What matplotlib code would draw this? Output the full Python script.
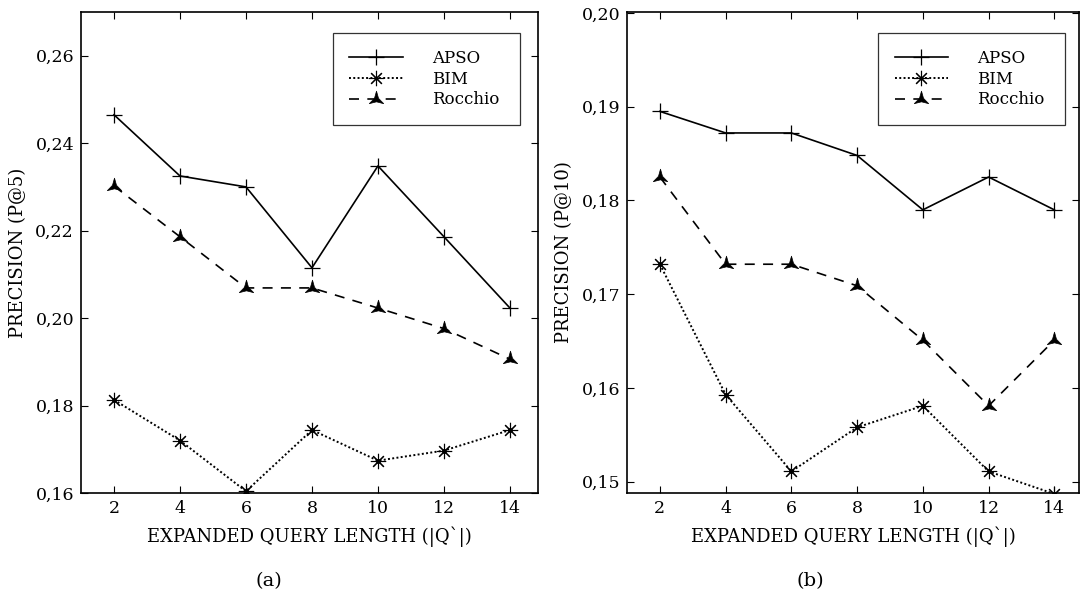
import numpy as np
import matplotlib
matplotlib.use("Agg")
import matplotlib.pyplot as plt
from matplotlib.path import Path
from matplotlib.ticker import FuncFormatter

plt.rcParams['font.family'] = ['DejaVu Serif']

x_len = [2, 4, 6, 8, 10, 12, 14]

apso_p5 = [0.2465, 0.2325, 0.2300, 0.2115, 0.2348, 0.2186, 0.2023]
bim_p5 = [0.1813, 0.1720, 0.1604, 0.1744, 0.1674, 0.1697, 0.1744]
rocchio_p5 = [0.2302, 0.2186, 0.2069, 0.2069, 0.2023, 0.1976, 0.1906]

apso_p10 = [0.1895, 0.1872, 0.1872, 0.1848, 0.1790, 0.1825, 0.1790]
bim_p10 = [0.1732, 0.1593, 0.1511, 0.1558, 0.1581, 0.1511, 0.1487]
rocchio_p10 = [0.1825, 0.1732, 0.1732, 0.1709, 0.1651, 0.1581, 0.1651]

yticks_a = [0.16, 0.18, 0.20, 0.22, 0.24, 0.26]
yticks_b = [0.15, 0.16, 0.17, 0.18, 0.19, 0.20]
series_names = ['APSO', 'BIM', 'Rocchio']

# three-pointed star marker (one arm up, two down)
ang = np.deg2rad([90, 150, 210, 270, 330, 30, 90])
rad = np.array([1.0, 0.28, 1.0, 0.28, 1.0, 0.28, 1.0])
tri_verts = np.column_stack([rad * np.cos(ang), rad * np.sin(ang)])
tri_marker = Path(tri_verts, closed=True)

fig = plt.figure(figsize=(10.82, 5.99), dpi=100)
W, H = 1082, 599

def make_axes(l, r, t, b):
    return fig.add_axes([l / W, (H - b) / H, (r - l) / W, (b - t) / H])

ax1 = make_axes(81, 538, 12, 493)
ax2 = make_axes(627, 1079, 12, 493)

comma = FuncFormatter(lambda v, p: f"{v:.2f}".replace('.', ','))

def draw(ax, apso, bim, roc, ylim, yticks, ylabel, xlim, leg_l, leg_r):
    ax.plot(x_len, apso, color='black', lw=1.2, ls='-', marker='+',
            ms=12, mew=0.9, label=series_names[0])
    ax.plot(x_len, bim, color='black', lw=1.4, ls=(0, (1, 1.2)), marker=(8, 2, 0),
            ms=11, mew=0.8, label=series_names[1])
    ax.plot(x_len, bim, color='black', lw=0, marker='o', ms=2.5)
    ax.plot(x_len, roc, color='black', lw=1.2, ls=(0, (6, 5)), marker=tri_marker,
            ms=12, mew=0.5, label=series_names[2])
    ax.set_xlim(*xlim)
    ax.set_ylim(*ylim)
    ax.set_xticks(x_len)
    ax.set_yticks(yticks)
    ax.yaxis.set_major_formatter(comma)
    ax.tick_params(direction='in', top=True, right=True, length=5, width=0.8,
                   labelsize=12.5, pad=5)
    for s in ax.spines.values():
        s.set_linewidth(1.2)
    ax.set_xlabel('EXPANDED QUERY LENGTH (|Q`|)', fontsize=13, labelpad=7)
    ax.set_ylabel(ylabel, fontsize=13, labelpad=6)
    leg = ax.legend(loc='upper left', bbox_to_anchor=(leg_l, 0.0, leg_r - leg_l, 0.956),
                    mode='expand', borderaxespad=0, fontsize=12, handlelength=3.2,
                    handletextpad=1.75, labelspacing=0.23, borderpad=1.0,
                    fancybox=False, frameon=True, edgecolor='black')
    leg.get_frame().set_linewidth(0.9)

draw(ax1, apso_p5, bim_p5, rocchio_p5, (0.16, 0.27), yticks_a,
     'PRECISION (P@5)', (1, 14.85), 0.551, 0.961)
draw(ax2, apso_p10, bim_p10, rocchio_p10, (0.1488, 0.2001), yticks_b,
     'PRECISION (P@10)', (1, 14.75), 0.555, 0.969)

fig.text(269 / W, 1 - 581 / H, '(a)', ha='center', va='center', fontsize=14)
fig.text(810 / W, 1 - 581 / H, '(b)', ha='center', va='center', fontsize=14)

fig.savefig('out.png', dpi=100)
